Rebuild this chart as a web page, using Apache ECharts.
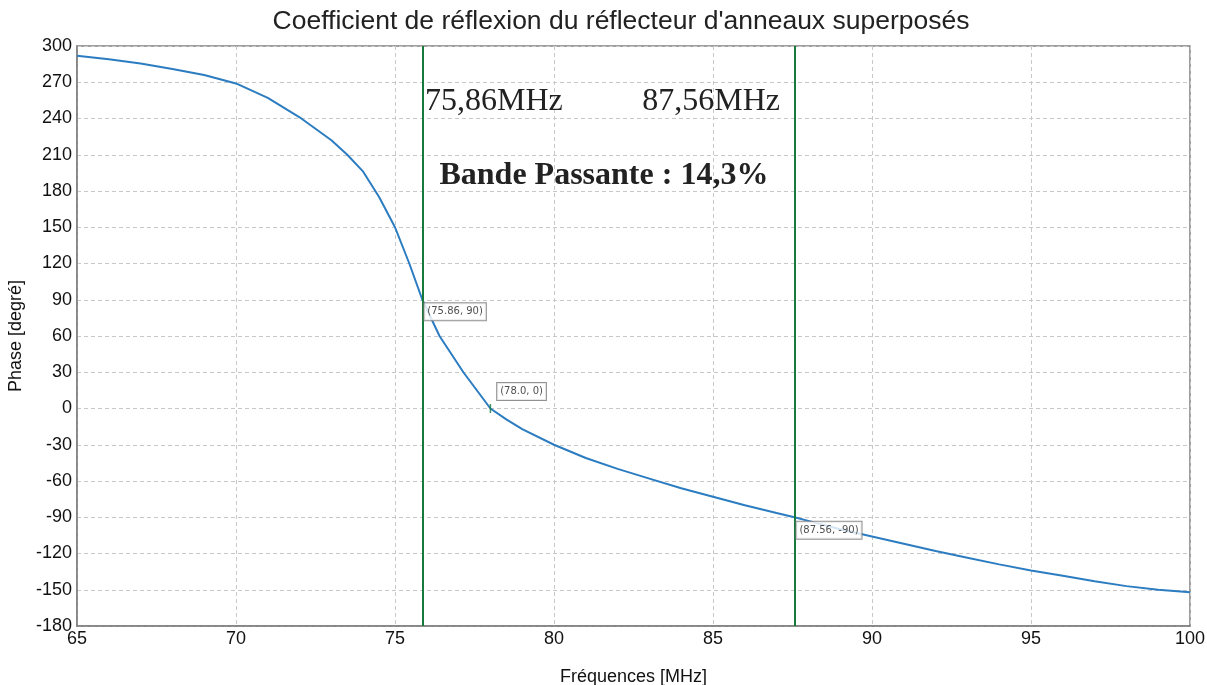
<!DOCTYPE html>
<html>
<head>
<meta charset="utf-8">
<script src="https://cdn.jsdelivr.net/npm/echarts@6/dist/echarts.min.js"></script>
<style>
html,body{margin:0;padding:0;background:#fff;}
#chart{width:1207px;height:685px;}
</style>
</head>
<body>
<div id="chart"></div>
<script>
// Phase of the reflection coefficient (degrees) versus frequency (MHz)
const freqs  = [65, 66, 67, 68, 69, 69.5, 70, 71, 72, 73, 73.5, 74, 74.5, 75, 75.45, 75.86, 76.4, 77.15, 78, 78.5, 79, 80, 81, 82, 83, 84, 85, 86, 87, 87.56, 88, 89, 90, 91, 92, 93, 94, 95, 96, 97, 98, 99, 100];
const phases = [292, 289, 285.5, 281, 276, 272.5, 269, 257, 241, 222, 210, 196, 175, 150, 120, 90, 60, 30, 0, -9, -17, -30, -41, -50, -58, -66, -73, -80, -86.5, -90, -93, -100, -106, -112, -118, -123.5, -129, -134, -138.5, -143, -147, -150, -152];

// Band edges (phase = +90 and -90) and the zero-phase point
const bandEdges = [75.86, 87.56];
const markedPoints = [[75.86, 90], [78.0, 0], [87.56, -90]];
const markedLabels = ['(75.86, 90)', '(78.0, 0)', '(87.56, -90)'];

const xTicks = {min: 65, max: 100, step: 5};
const yTicks = {min: -180, max: 300, step: 30};

const chart = echarts.init(document.getElementById('chart'));

const serif = '"Liberation Serif", "Times New Roman", serif';
const sans = '"Liberation Sans", Arial, sans-serif';
const green = '#187a3a';

const curve = freqs.map((f, i) => [f, phases[i]]);

const labelOffsets = [[-3, 12], [1, -17], [-3, 13]];

chart.setOption({
  animation: false,
  title: {
    text: 'Coefficient de réflexion du réflecteur d\'anneaux superposés',
    left: 616, top: 3, textAlign: 'center',
    textStyle: {fontFamily: sans, fontSize: 26.5, fontWeight: 'normal', color: '#222'}
  },
  grid: {left: 77, right: 17, top: 46, bottom: 59, show: true, borderColor: '#808080', borderWidth: 1.5, outerBoundsMode: 'none', containLabel: false},
  xAxis: {
    type: 'value', min: xTicks.min, max: xTicks.max, interval: xTicks.step,
    name: 'Fréquences [MHz]', nameLocation: 'middle', nameGap: 42,
    nameTextStyle: {fontFamily: sans, fontSize: 18, color: '#111'},
    axisLine: {onZero: false, lineStyle: {color: '#808080', width: 1.5}},
    axisTick: {show: false},
    axisLabel: {fontFamily: sans, fontSize: 18, color: '#111', margin: 4},
    splitLine: {lineStyle: {color: '#c8c8c8', type: [4, 3]}}
  },
  yAxis: {
    type: 'value', min: yTicks.min, max: yTicks.max, interval: yTicks.step,
    name: 'Phase [degré]', nameLocation: 'middle', nameGap: 52,
    nameTextStyle: {fontFamily: sans, fontSize: 18, color: '#111'},
    axisLine: {show: true, onZero: false, lineStyle: {color: '#808080', width: 1.5}},
    axisTick: {show: false},
    axisLabel: {fontFamily: sans, fontSize: 18, color: '#111', margin: 5},
    splitLine: {lineStyle: {color: '#c8c8c8', type: [4, 3]}}
  },
  series: [
    {
      type: 'line', data: curve, showSymbol: false, smooth: false,
      lineStyle: {color: '#2b7cc0', width: 2},
      z: 3,
      markLine: {
        silent: true, symbol: 'none', label: {show: false},
        lineStyle: {color: green, width: 2, type: 'solid'},
        data: bandEdges.map(f => ({xAxis: f}))
      },
      markPoint: {
        silent: true, symbol: 'circle', symbolSize: 0,
        data: [
          {coord: [78.11, 254], label: {show: true, position: 'inside', formatter: '75,86MHz', fontFamily: serif, fontSize: 32, color: '#222'}},
          {coord: [84.94, 254], label: {show: true, position: 'inside', formatter: '87,56MHz', fontFamily: serif, fontSize: 32, color: '#222'}},
          {coord: [81.57, 192.5], label: {show: true, position: 'inside', formatter: 'Bande Passante : 14,3%', fontFamily: serif, fontSize: 32, fontWeight: 'bold', color: '#222'}}
        ]
      }
    },
    {
      type: 'scatter',
      data: markedPoints.map((p, i) => ({
        value: p,
        symbol: 'rect',
        symbolSize: i === 1 ? [1.5, 9] : 0,
        label: {
          show: true, position: 'right', offset: labelOffsets[i],
          formatter: markedLabels[i],
          fontFamily: '"DejaVu Sans", Tahoma, sans-serif', fontSize: 10, color: '#222',
          backgroundColor: '#fff', borderColor: '#777', borderWidth: 1,
          padding: [4, 3, 3, 3]
        }
      })),
      itemStyle: {color: green},
      z: 5
    }
  ]
});
</script>
</body>
</html>
